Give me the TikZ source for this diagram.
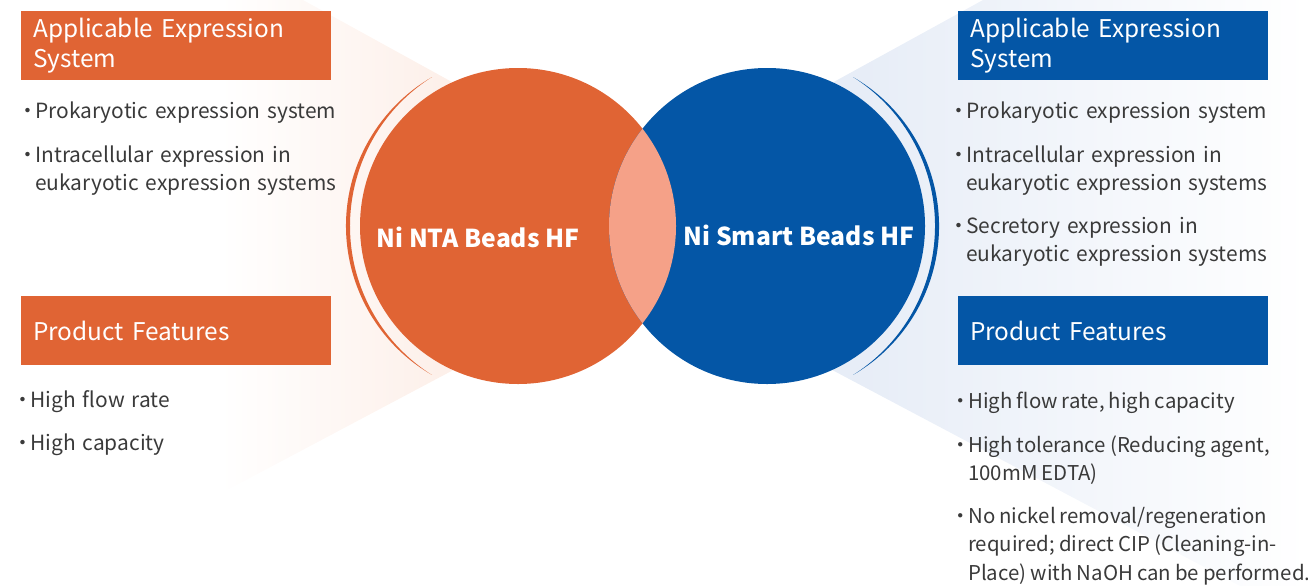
\documentclass[tikz,border=0pt]{standalone}
\usepackage{fontspec}
\setmainfont{Noto Sans CJK SC}
\usetikzlibrary{calc}
\definecolor{nta}{RGB}{224,100,52}
\definecolor{smart}{RGB}{4,86,166}
\definecolor{lens}{RGB}{245,161,136}
\definecolor{ntafan}{RGB}{253,240,234}
\definecolor{smartfan}{RGB}{231,237,247}
\definecolor{txt}{RGB}{58,58,58}
\tikzset{every node/.style={inner sep=0pt}}
\tikzset{head/.style={anchor=north west,minimum width=232.5pt,minimum height=51.75pt,inner xsep=9pt,text width=214.5pt,align=left,text=white,font=\fontsize{18.3}{22.5}\selectfont}}
\tikzset{item/.style={anchor=base west,text width=320pt,align=left,text=txt,font=\fontsize{15.7}{21.4}\selectfont}}
\tikzset{tightitem/.style={item,font=\fontsize{15.3}{21.4}\selectfont,execute at begin node={\spaceskip=0.2em\relax}}}
\tikzset{bead/.style={text=white,font=\bfseries\fontsize{18.5}{22}\selectfont}}
\newcommand{\dotitem}{\llap{\makebox[0pt]{·}\kern5.5pt}}

\begin{document}
\begin{tikzpicture}[x=0.75pt,y=-0.75pt]
  \useasboundingbox (0,0) rectangle (1308,586);
  % light fans behind the beads
  \begin{scope}
    \clip (719,229) -- (303,0) -- (150,0) -- (150,531) -- cycle;
    \shade[left color=white,right color=ntafan] (220,0) rectangle (440,586);
    \fill[ntafan] (440,0) rectangle (720,586);
  \end{scope}
  \begin{scope}
    \clip (566,229) -- (983,0) -- (1308,0) -- (1308,586) -- (1240,586) -- cycle;
    \fill[smartfan] (560,0) rectangle (860,586);
    \shade[left color=smartfan,right color=white] (860,0) rectangle (1308,586);
  \end{scope}

  % the two beads
  \coordinate (nc) at (518,226);
  \coordinate (sc) at (767,226);
  \fill[nta] (nc) circle[radius=158];
  \fill[smart] (sc) circle[radius=158];
  \begin{scope}
    \clip (nc) circle[radius=158];
    \fill[lens] (sc) circle[radius=158];
  \end{scope}
  \fill[nta] ($(nc)+(120:172)$) arc[start angle=120,end angle=240,radius=172]
    -- ($(nc)+(8.4,0)+(237.6:176.4)$) arc[start angle=237.6,end angle=122.4,radius=176.4] -- cycle;
  \fill[smart] ($(sc)+(-60:172)$) arc[start angle=-60,end angle=60,radius=172]
    -- ($(sc)+(-8.4,0)+(57.6:176.4)$) arc[start angle=57.6,end angle=-57.6,radius=176.4] -- cycle;
  \node[bead] (ntaname) at (478,237) {Ni NTA Beads HF};
  \node[bead] (smartname) at (799,235) {Ni Smart Beads HF};

  % Ni NTA Beads HF
  \node[head,fill=nta] (ntasys) at (21,11) {Applicable Expression\\System};
  \node[item] (ntasys1) at (35,118) {\dotitem Prokaryotic expression system};
  \node[item] (ntasys2) at (35,162) {\dotitem Intracellular expression in\\eukaryotic expression systems};
  \node[head,fill=nta] (ntafeat) at (21,296) {Product Features};
  \node[item] (ntafeat1) at (30,407) {\dotitem High flow rate};
  \node[item] (ntafeat2) at (30,450) {\dotitem High capacity};

  % Ni Smart Beads HF
  \node[head,fill=smart] (smsys) at (958,11) {Applicable Expression\\System};
  \node[item] (smsys1) at (966,118) {\dotitem Prokaryotic expression system};
  \node[item] (smsys2) at (966,162) {\dotitem Intracellular expression in\\eukaryotic expression systems};
  \node[item] (smsys3) at (966,233) {\dotitem Secretory expression in\\eukaryotic expression systems};
  \node[head,fill=smart] (smfeat) at (958,296) {Product Features};
  \node[tightitem] (smfeat1) at (968,408) {\dotitem High flow rate, high capacity};
  \node[tightitem] (smfeat2) at (968,452) {\dotitem High tolerance (Reducing agent,\\100mM EDTA)};
  \node[tightitem] (smfeat3) at (968,523) {\dotitem No nickel removal/regeneration\\required; direct CIP (Cleaning-in-\\Place) with NaOH can be performed.};
\end{tikzpicture}
\end{document}
